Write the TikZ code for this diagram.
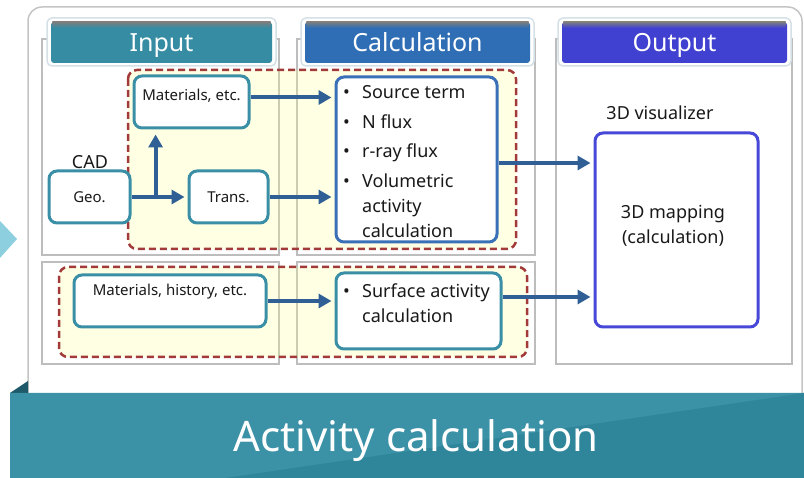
\documentclass[tikz,border=0pt]{standalone}
\usepackage{fontspec}
\setmainfont{Noto Sans}
\usetikzlibrary{arrows.meta,calc}
\definecolor{inputc}{HTML}{358CA3}
\definecolor{calcc}{HTML}{2F6EB5}
\definecolor{outc}{HTML}{4141D1}
\definecolor{tealb}{HTML}{3A8FA6}
\definecolor{calcb}{HTML}{3A70B8}
\definecolor{outb}{HTML}{4848D8}
\definecolor{arrc}{HTML}{305F95}
\definecolor{dashc}{HTML}{A33A3A}
\definecolor{yelc}{HTML}{FFFF8A}
\definecolor{colc}{HTML}{BDBDBD}
\definecolor{framec}{HTML}{C4C4C4}
\definecolor{hframec}{HTML}{D6E1E7}
\definecolor{stripc}{HTML}{7E7E7E}
\definecolor{banc}{HTML}{2F8599}
\definecolor{banl}{HTML}{3B91A6}
\definecolor{bandark}{HTML}{1E5A6A}
\definecolor{tric}{HTML}{8ECFDF}
\tikzset{
  colbox/.style={draw=colc, line width=1.2pt, fill=white},
  dashbox/.style={rounded corners=9pt, fill=yelc, fill opacity=0.24},
  dashline/.style={draw=dashc, line width=2.5pt, dash pattern=on 7pt off 4pt, rounded corners=9pt},
  hframe/.style={draw=hframec, line width=1.5pt, fill=white, rounded corners=5pt},
  hdr/.style={text=white, font=\fontsize{25pt}{30pt}\selectfont, rounded corners=3pt, inner sep=0pt, minimum height=41pt, text height=18pt, text depth=0pt},
  tbox/.style={draw=tealb, line width=3pt, rounded corners=8pt, fill=white, inner sep=0pt},
  lbl/.style={text=black!90, inner sep=0pt},
  small/.style={font=\fontsize{15pt}{18pt}\selectfont},
  mid/.style={font=\fontsize{18pt}{25pt}\selectfont},
  arr/.style={draw=arrc, line width=4pt, -{Triangle[length=13pt,width=14pt]}, shorten >=3pt}
}
\begin{document}
\begin{tikzpicture}[x=1pt,y=-1pt]
\useasboundingbox (0,0) rectangle (804,478);
% outer frame and side marks
\draw[draw=framec, line width=1.5pt, rounded corners=14pt] (28,7) rectangle (802,410);
\fill[tric] (0,221) -- (17,239) -- (0,258) -- cycle;
% columns
\draw[colbox] (42,39) rectangle (279,255);
\draw[colbox] (297,39) rectangle (535,255);
\draw[colbox] (556,39) rectangle (792,364);
\draw[colbox] (42,262) rectangle (279,364);
\draw[colbox] (297,262) rectangle (535,364);
% dashed groups
\path[dashbox] (128,70) rectangle (516,249);
\path[dashbox] (59,267) rectangle (527,357);
\draw[dashline] (128,70) rectangle (516,249);
\draw[dashline] (59,267) rectangle (527,357);
% headers
\draw[hframe] (47,18) rectangle (276,66);
\draw[hframe] (301,18) rectangle (534,66);
\draw[hframe] (558,18) rectangle (791,66);
\node[hdr, fill=inputc, minimum width=221pt] (hIn) at (161.5,42.5) {Input};
\node[hdr, fill=calcc, minimum width=225pt] (hCalc) at (417.5,42.5) {Calculation};
\node[hdr, fill=outc, minimum width=225pt] (hOut) at (674.5,42.5) {Output};
\shade[top color=stripc, bottom color=inputc] ([xshift=1.5pt]hIn.north west) rectangle ([xshift=-1.5pt,yshift=-6pt]hIn.north east);
\shade[top color=stripc, bottom color=calcc] ([xshift=1.5pt]hCalc.north west) rectangle ([xshift=-1.5pt,yshift=-6pt]hCalc.north east);
\shade[top color=stripc, bottom color=outc] ([xshift=1.5pt]hOut.north west) rectangle ([xshift=-1.5pt,yshift=-6pt]hOut.north east);
% boxes
\node[tbox, minimum width=115pt, minimum height=52pt] (mat) at (191.5,102) {};
\node[lbl, small] (matT) at (191.5,96) {Materials, etc.};
\node[tbox, minimum width=81pt, minimum height=52pt, small, text=black!90] (geo) at (89.5,197) {Geo.};
\node[lbl, mid] (cad) at (90,162) {CAD};
\node[tbox, minimum width=79pt, minimum height=52pt, small, text=black!90] (trans) at (228.5,197) {Trans.};
\node[tbox, draw=calcb, minimum width=161pt, minimum height=165pt] (calc) at (416.5,159.5) {};
\node[lbl, mid, align=left, anchor=north west] (calcT) at (343,85.5)
  {\makebox[19pt][l]{•}Source term\\[4.5pt]
   \makebox[19pt][l]{•}N flux\\[4.5pt]
   \makebox[19pt][l]{•}r-ray flux\\[4.5pt]
   \makebox[19pt][l]{•}Volumetric\\
   \hspace*{19pt}activity\\
   \hspace*{19pt}calculation};
\node[tbox, minimum width=192pt, minimum height=52pt] (matsh) at (170,301) {};
\node[lbl, small] (matshT) at (170,292) {Materials, history, etc.};
\node[tbox, minimum width=165pt, minimum height=76pt] (surf) at (418.5,311) {};
\node[lbl, mid, align=left, anchor=north west] (surfT) at (343,283.5)
  {\makebox[19pt][l]{•}Surface activity\\
   \hspace*{19pt}calculation};
\node[tbox, draw=outb, minimum width=163pt, minimum height=194pt] (map3) at (676.5,230) {};
\node[lbl, mid, align=center] (map3T) at (673,226) {3D mapping\\(calculation)};
\node[lbl, mid] (vis) at (660,113) {3D visualizer};
% arrows
\coordinate (br) at ($(geo.east)!0.43!(trans.west)$);
\draw[arr] (geo.east) -- (trans.west);
\draw[arr, shorten >=5pt] (br) -- (br |- mat.south);
\coordinate (m1) at ([yshift=4.5pt]mat.east);
\draw[arr] (m1) -- (m1 -| calc.west);
\draw[arr] (trans.east) -- (trans.east -| calc.west);
\coordinate (c1) at ([yshift=-3.5pt]calc.east);
\draw[arr] (c1) -- (c1 -| map3.west);
\draw[arr] (matsh.east) -- (matsh.east -| surf.west);
\coordinate (s1) at ([yshift=14pt]surf.east);
\draw[arr] (s1) -- (s1 -| map3.west);
% banner
\fill[bandark] (10,393) -- (28,381) -- (28,393) -- cycle;
\fill[banc] (10,393) rectangle (804,478);
\fill[banl] (10,393) -- (804,393) -- (225,478) -- (10,478) -- cycle;
\node[text=white, inner sep=0pt, anchor=base, font=\fontsize{42pt}{48pt}\selectfont] (title) at (416,452) {Activity calculation};
\end{tikzpicture}
\end{document}
